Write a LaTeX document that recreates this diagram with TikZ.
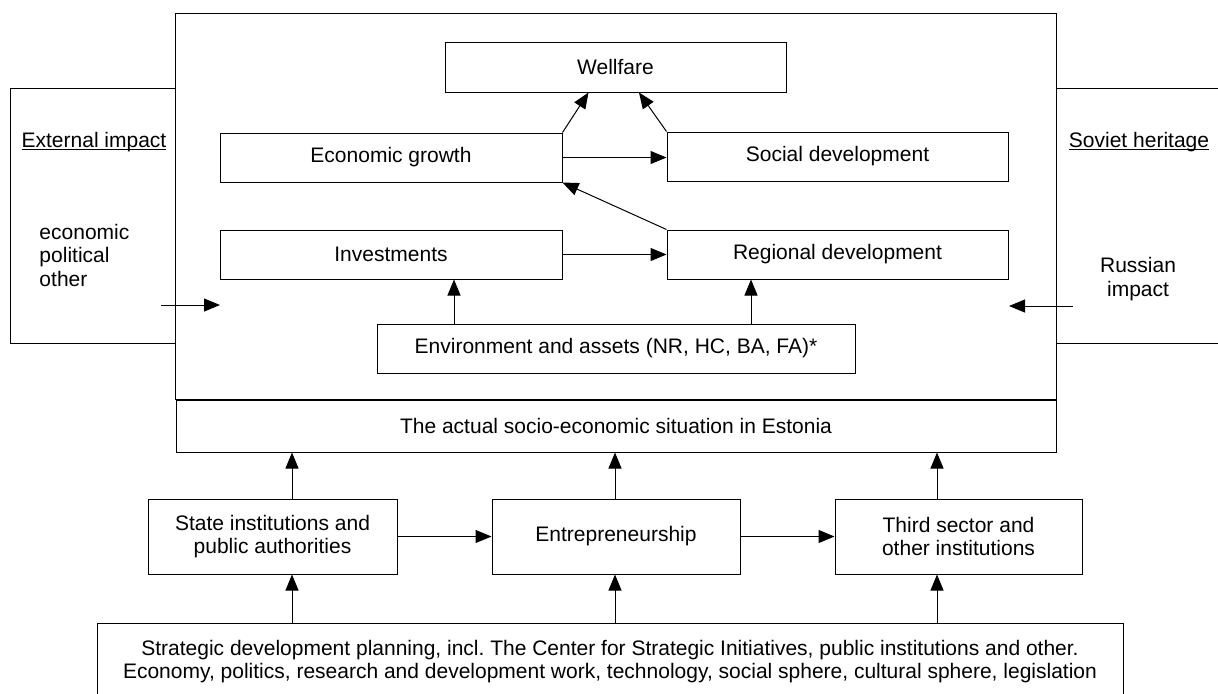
\documentclass[tikz,border=0pt]{standalone}
\usepackage{fontspec}
\setmainfont{Liberation Sans}
\usetikzlibrary{arrows.meta}

\newcommand{\ulabel}[1]{\underline{\smash{#1}}}

\begin{document}
\begin{tikzpicture}[x=0.5pt, y=-0.5pt,
    font=\fontsize{10.5pt}{11.75pt}\selectfont,
    line width=0.5pt,
    box/.style={draw, inner sep=0pt, minimum width=171pt, minimum height=24.5pt, align=center},
    lowbox/.style={box, minimum width=124.5pt, minimum height=37.5pt},
    label/.style={inner sep=0pt},
    arr/.style={-{Triangle[length=8pt, width=6.5pt]}}]
    \clip (0,0) rectangle (1218,693);

    % frame with the current situation at its foot
    \node (situation) at (616,426) [box, minimum width=440pt, minimum height=26pt] {The actual socio-economic situation in Estonia};
    \draw (situation.north west) rectangle (1056,13);

    % side panels
    \draw (176,88) -- (10,88) -- (10,343) -- (176,343);
    \draw (1056,88) -- (1230,88) (1056,343) -- (1230,343);
    \node (extlabel) at (94,147) [label, anchor=base] {\ulabel{External impact}};
    \node (extlist) at (39,286) [label, anchor=base west, align=left] {economic\\political\\other};
    \node (sovlabel) at (1139,147) [label, anchor=base] {\ulabel{Soviet heritage}};
    \node (ruslabel) at (1138,296) [label, anchor=base, align=center] {Russian\\impact};
    \coordinate (extin) at (161,305);
    \coordinate (extout) at (220,305);
    \coordinate (rusin) at (1073,306);
    \coordinate (rusout) at (1009,306);
    \draw [arr] (extin) -- (extout);
    \draw [arr] (rusin) -- (rusout);

    % inner boxes
    \node (wellfare) at (615.5,67) [box, minimum width=170.5pt, minimum height=25pt] {Wellfare};
    \node (growth) at (391,157.5) [box] {Economic growth};
    \node (social) at (837.5,156.5) [box, minimum width=170.5pt] {Social development};
    \node (invest) at (391,254.5) [box] {Investments};
    \node (regional) at (837.5,254.5) [box, minimum width=170.5pt] {Regional development};
    \node (env) at (616,348.5) [box, minimum width=239pt] {Environment and assets (NR, HC, BA, FA)*};

    \draw [arr] (growth.north east) -- ([xshift=-13.5pt]wellfare.south);
    \draw [arr] (social.north west) -- ([xshift=11.75pt]wellfare.south);
    \draw [arr] (growth.east) -- (growth.east -| social.west);
    \draw [arr] (regional.north west) -- (growth.south east);
    \draw [arr] (invest.east) -- (invest.east -| regional.west);
    \draw [arr] (env.north -| 454,0) -- (invest.south -| 454,0);
    \draw [arr] (env.north -| 751,0) -- (regional.south -| 751,0);

    % actors and planning below
    \node (state) at (272.5,536.5) [lowbox] {State institutions and\\public authorities};
    \node (entre) at (616,536.5) [lowbox, minimum width=124pt] {Entrepreneurship};
    \node (third) at (958.5,536.5) [lowbox, minimum width=123.5pt] {Third sector and\\other institutions};
    \node (strategic) at (610,661.5) [box, minimum width=513pt, minimum height=38.5pt] {Strategic development planning, incl.\ The Center for Strategic Initiatives, public institutions and other.\\Economy, politics, research and development work, technology, social sphere, cultural sphere, legislation};

    \draw [arr] (state.east) -- (entre.west);
    \draw [arr] (entre.east) -- (third.west);
    \foreach \n/\x in {state/292, entre/615, third/937} {
        \draw [arr] (strategic.north -| \x,0) -- (\n.south -| \x,0);
        \draw [arr] (\n.north -| \x,0) -- (situation.south -| \x,0);
    }
\end{tikzpicture}
\end{document}
